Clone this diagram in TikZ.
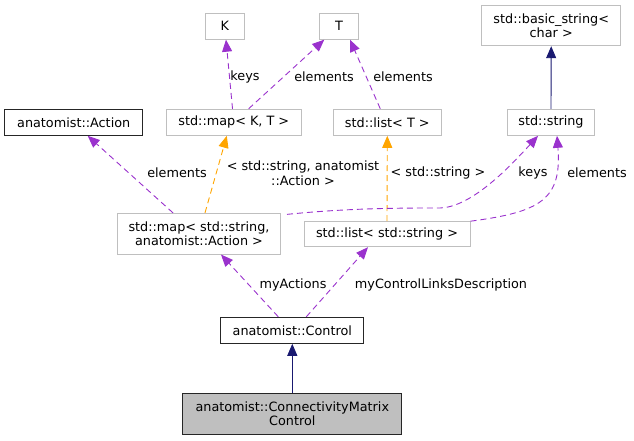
\documentclass[tikz,border=0pt]{standalone}
\usepackage{fontspec}
\setmainfont{DejaVu Sans}
\usepackage{tikz}
\usetikzlibrary{arrows.meta}
\definecolor{orchid}{HTML}{9A32CD}
\definecolor{mnblue}{HTML}{191970}
\definecolor{gline}{HTML}{BFBFBF}
\definecolor{gvorange}{HTML}{FFA500}

\begin{document}
\begin{tikzpicture}[x=1pt,y=-1pt,
  every node/.style={font=\fontsize{12.8}{14.6}\selectfont},
  cls/.style={draw=gline,fill=white,inner sep=0pt,minimum height=26,align=center,line width=1pt},
  doc/.style={cls,draw=black!85},
  use/.style={draw=orchid,line width=0.9pt,dash pattern=on 6pt off 4pt,-{Triangle[length=12pt,width=10pt]}},
  tpl/.style={use,draw=gvorange},
  inh/.style={draw=mnblue,line width=0.9pt,-{Triangle[length=12pt,width=10pt]}},
  lbl/.style={inner sep=0pt,align=center}]
\useasboundingbox (0,0) rectangle (634,440);

% classes
\node [cls, minimum width=39] (k) at (224.7,26.2) {K};
\node [cls, minimum width=39] (t) at (339,26.2) {T};
\node [cls, minimum width=139, minimum height=40] (bs) at (551.2,25.7) {std::basic\_string<\\char >};
\node [doc, minimum width=138] (act) at (73.7,122.3) {anatomist::Action};
\node [cls, minimum width=135] (mkt) at (233.8,122.3) {std::map< K, T >};
\node [cls, minimum width=108] (lt) at (387.3,122.3) {std::list< T >};
\node [cls, minimum width=87] (str) at (551,122.3) {std::string};
\node [cls, minimum width=163, minimum height=40.7] (msa) at (199,233.7) {std::map< std::string,\\anatomist::Action >};
\node [cls, minimum width=166, minimum height=25] (lss) at (387,234.2) {std::list< std::string >};
\node [doc, minimum width=143] (ctl) at (292.3,330.3) {anatomist::Control};
\node [doc, fill={rgb,255:red,191;green,191;blue,191}, minimum width=219, minimum height=40.7] (cmc) at (292.3,413.7) {anatomist::ConnectivityMatrix\\Control};

% links
\draw [use] (mkt) -- (k);
\draw [use] (mkt) -- (t);
\draw [use] ([xshift=-7]lt.north) -- ([xshift=11]t.south);
\draw [use] ([xshift=-26]msa.north) -- ([xshift=14]act.south);
\draw [tpl] ([xshift=6]msa.north) -- ([xshift=-7]mkt.south);
\draw [tpl] (lss.north) -- (lt.south);
\draw [use] ([xshift=6,yshift=-1.5]msa.north east) .. controls (350,208) and (400,208) .. (440,208)
  .. controls (470,207) and (505,172) .. ([xshift=-13]str.south);
\draw [use] (lss.north east) .. controls (540,212) and (562,200) .. ([xshift=6]str.south);
\draw [use] ([xshift=-14]ctl.north) -- ([xshift=22]msa.south);
\draw [use] ([xshift=14]ctl.north) -- ([xshift=-19]lss.south);
\draw [inh] (cmc.north) -- (ctl.south);
\draw [inh] (str.north) -- (bs.south);

% labels
\node [lbl] (lk1) at (245,77) {keys};
\node [lbl] (le1) at (324,77) {elements};
\node [lbl] (le2) at (403,77) {elements};
\node [lbl] (le3) at (177,173) {elements};
\node [lbl] (lmsa) at (303,173) {< std::string, anatomist\\::Action >};
\node [lbl] (llss) at (438,173) {< std::string >};
\node [lbl] (lk2) at (533,173) {keys};
\node [lbl] (le4) at (597,173) {elements};
\node [lbl] (lact) at (293,285) {myActions};
\node [lbl] (lctl) at (441,285) {myControlLinksDescription};
\end{tikzpicture}
\end{document}
